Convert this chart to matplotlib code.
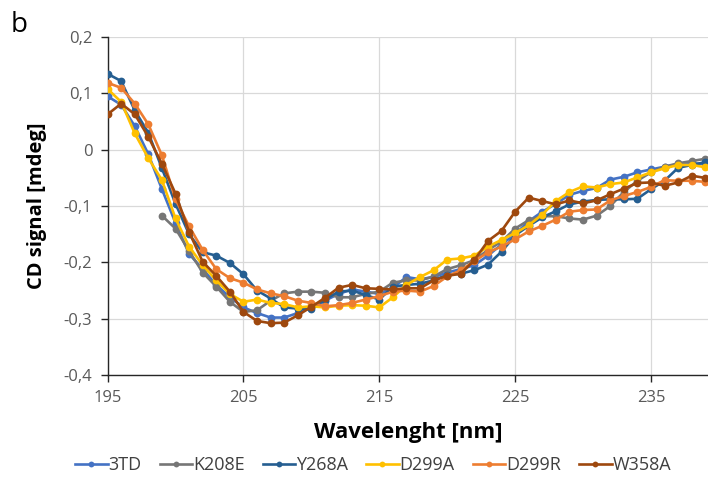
import numpy as np
import matplotlib
matplotlib.use("Agg")
import matplotlib.pyplot as plt
from matplotlib.ticker import FuncFormatter

wavelength = list(range(195, 240))

nan = float("nan")
s_3TD = [0.095, 0.080, 0.042, -0.008, -0.070, -0.130, -0.185, -0.212, -0.240, -0.262,
         -0.280, -0.290, -0.298, -0.298, -0.290, -0.280, -0.268, -0.256, -0.248, -0.252,
         -0.256, -0.245, -0.226, -0.230, -0.226, -0.218, -0.212, -0.205, -0.188, -0.168,
         -0.150, -0.127, -0.110, -0.096, -0.080, -0.073, -0.068, -0.053, -0.048, -0.040,
         -0.035, -0.030, -0.026, -0.024, -0.025]
s_K208E = [nan, nan, nan, nan, -0.117, -0.140, -0.180, -0.218, -0.243, -0.270,
           -0.288, -0.285, -0.268, -0.255, -0.252, -0.252, -0.254, -0.262, -0.262, -0.256,
           -0.252, -0.236, -0.232, -0.232, -0.225, -0.212, -0.205, -0.196, -0.178, -0.163,
           -0.140, -0.125, -0.118, -0.118, -0.122, -0.124, -0.117, -0.100, -0.075, -0.055,
           -0.040, -0.030, -0.024, -0.020, -0.016]
s_Y268A = [0.135, 0.122, 0.070, 0.030, -0.033, -0.096, -0.150, -0.182, -0.188, -0.201,
           -0.221, -0.250, -0.264, -0.280, -0.282, -0.283, -0.266, -0.252, -0.250, -0.258,
           -0.266, -0.243, -0.240, -0.238, -0.232, -0.222, -0.220, -0.214, -0.204, -0.181,
           -0.152, -0.135, -0.120, -0.109, -0.097, -0.092, -0.089, -0.088, -0.088, -0.087,
           -0.070, -0.055, -0.032, -0.027, -0.022]
s_D299A = [0.108, 0.085, 0.029, -0.015, -0.054, -0.122, -0.172, -0.205, -0.232, -0.256,
           -0.270, -0.266, -0.272, -0.274, -0.280, -0.278, -0.280, -0.277, -0.276, -0.277,
           -0.280, -0.262, -0.240, -0.226, -0.214, -0.195, -0.193, -0.188, -0.172, -0.160,
           -0.148, -0.134, -0.115, -0.091, -0.075, -0.065, -0.067, -0.061, -0.058, -0.049,
           -0.040, -0.033, -0.027, -0.027, -0.031]
s_D299R = [0.119, 0.110, 0.082, 0.045, -0.010, -0.088, -0.136, -0.178, -0.212, -0.228,
           -0.236, -0.248, -0.255, -0.260, -0.268, -0.272, -0.278, -0.276, -0.272, -0.266,
           -0.260, -0.252, -0.250, -0.252, -0.242, -0.225, -0.214, -0.198, -0.182, -0.172,
           -0.159, -0.145, -0.135, -0.124, -0.110, -0.107, -0.106, -0.090, -0.082, -0.075,
           -0.066, -0.054, -0.055, -0.055, -0.057]
s_W358A = [0.063, 0.082, 0.063, 0.023, -0.025, -0.078, -0.146, -0.199, -0.224, -0.252,
           -0.288, -0.304, -0.308, -0.307, -0.294, -0.279, -0.263, -0.245, -0.240, -0.246,
           -0.247, -0.248, -0.246, -0.246, -0.232, -0.224, -0.220, -0.196, -0.162, -0.144,
           -0.110, -0.085, -0.091, -0.097, -0.090, -0.095, -0.090, -0.079, -0.069, -0.059,
           -0.058, -0.064, -0.058, -0.046, -0.050]

series_names = ["3TD", "K208E", "Y268A", "D299A", "D299R", "W358A"]
series_values = [s_3TD, s_K208E, s_Y268A, s_D299A, s_D299R, s_W358A]
colors = ["#4472C4", "#767676", "#255E91", "#FFC000", "#ED7D31", "#9E480E"]

x_ticks = [195, 205, 215, 225, 235]
y_ticks = [-0.4, -0.3, -0.2, -0.1, 0, 0.1, 0.2]

plt.rcParams['font.family'] = ['Open Sans', 'DejaVu Sans']

fig = plt.figure(figsize=(7.08, 4.96), dpi=100)
ax = fig.add_axes([0.152, 0.244, 0.848, 0.681])

for name, vals, c in zip(series_names, series_values, colors):
    ax.plot(wavelength, vals, color=c, lw=1.9, marker="o", markersize=5.6,
            markeredgewidth=0, label=name, zorder=3)

ax.set_xlim(195, 239.2)
ax.set_ylim(-0.4, 0.2)
ax.set_xticks(x_ticks)
ax.set_yticks(y_ticks)

def comma_fmt(v, pos):
    if abs(v) < 1e-9:
        return "0"
    return ("%.1f" % v).replace(".", ",")

ax.yaxis.set_major_formatter(FuncFormatter(comma_fmt))

ax.grid(True, color="#D9D9D9", lw=0.9, zorder=0)
ax.set_axisbelow(True)
for sp in ["top", "right"]:
    ax.spines[sp].set_visible(False)
ax.spines["left"].set_color("#262626")
ax.spines["bottom"].set_color("#262626")
ax.spines["left"].set_linewidth(1.0)
ax.spines["bottom"].set_linewidth(1.0)
ax.tick_params(axis="both", direction="out", length=5, width=1.0, color="#262626",
               labelsize=12, labelcolor="#595959", pad=6)

ax.set_xlabel("Wavelenght [nm]", fontsize=16, fontweight="bold", color="#000000", labelpad=11)
ax.set_ylabel("CD signal [mdeg]", fontsize=14.5, fontweight="bold", color="#000000", labelpad=12)

fig.text(0.015, 0.978, "b", fontsize=20, va="top", ha="left", color="#000000")

handles, labels = ax.get_legend_handles_labels()
fig.legend(handles, labels, loc="center", bbox_to_anchor=(0.527, 0.062), ncol=6,
           frameon=False, fontsize=13, handlelength=1.8, handletextpad=0.05,
           columnspacing=1.0, markerscale=0.75, labelcolor="#404040")

fig.savefig("out.png", dpi=100)
